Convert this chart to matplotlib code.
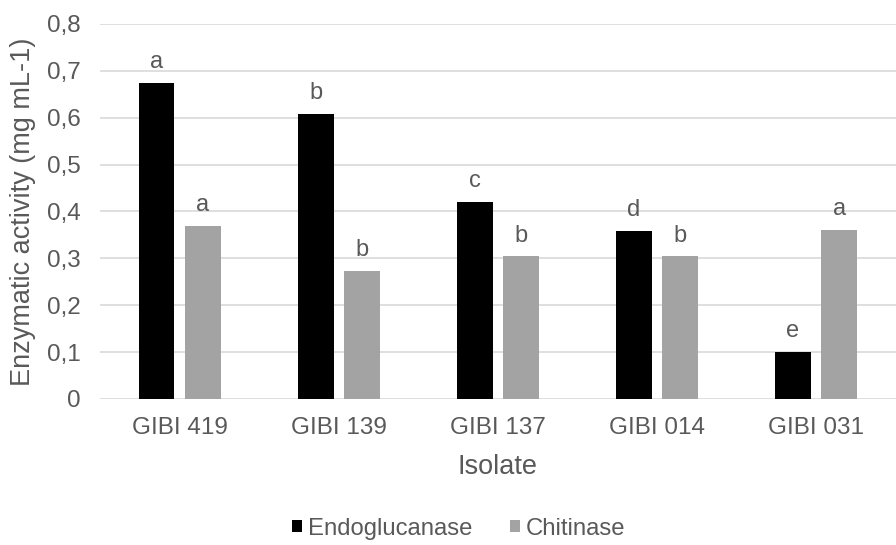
import numpy as np
import matplotlib.pyplot as plt

isolates = ['GIBI 419', 'GIBI 139', 'GIBI 137', 'GIBI 014', 'GIBI 031']
endo = [0.674, 0.608, 0.421, 0.359, 0.100]
chit = [0.369, 0.274, 0.304, 0.304, 0.361]
endo_letters = ['a', 'b', 'c', 'd', 'e']
chit_letters = ['a', 'b', 'b', 'b', 'a']

plt.rcParams['font.family'] = ['Liberation Sans', 'DejaVu Sans']
txt = '#595959'

fig = plt.figure(figsize=(8.96, 5.45), dpi=100)
ax = fig.add_axes([0.1116, 0.268, 0.888, 0.688])

x = np.arange(len(isolates))
w = 0.225
off = 0.145
b1 = ax.bar(x - off, endo, w, color='black', label='Endoglucanase', zorder=3)
b2 = ax.bar(x + off, chit, w, color='#a3a3a3', label='Chitinase', zorder=3)

for rects, letters in ((b1, endo_letters), (b2, chit_letters)):
    for r, lab in zip(rects, letters):
        ax.annotate(lab, (r.get_x() + r.get_width() / 2, r.get_height()),
                    xytext=(0, 7), textcoords='offset points',
                    ha='center', va='bottom', fontsize=17, color=txt)

ax.set_xlim(-0.5, len(isolates) - 0.5)
ax.set_ylim(0, 0.8)
ax.set_yticks(np.arange(0, 0.81, 0.1))
ax.set_yticklabels(['0'] + ['0,%d' % i for i in range(1, 9)])
ax.set_xticks(x)
ax.set_xticklabels(isolates)
ax.tick_params(axis='both', length=0, labelsize=17.5, colors=txt)
ax.tick_params(axis='x', pad=13)
ax.tick_params(axis='y', pad=14)
ax.yaxis.grid(True, color='#d9d9d9', lw=1.2, zorder=0)
for s in ax.spines.values():
    s.set_visible(False)

ax.set_ylabel('Enzymatic activity (mg mL-1)', fontsize=19.5, color=txt, labelpad=8)
ax.set_xlabel('Isolate', fontsize=19.5, color=txt, labelpad=11)

fig.legend(handles=[b1, b2], loc='center', bbox_to_anchor=(0.512, 0.03), ncol=2,
           frameon=False, fontsize=17.2, labelcolor=txt, handlelength=0.4,
           handleheight=0.4, handletextpad=0.25, columnspacing=1.6,
           borderpad=0.1)

fig.savefig('out.png', dpi=100)
